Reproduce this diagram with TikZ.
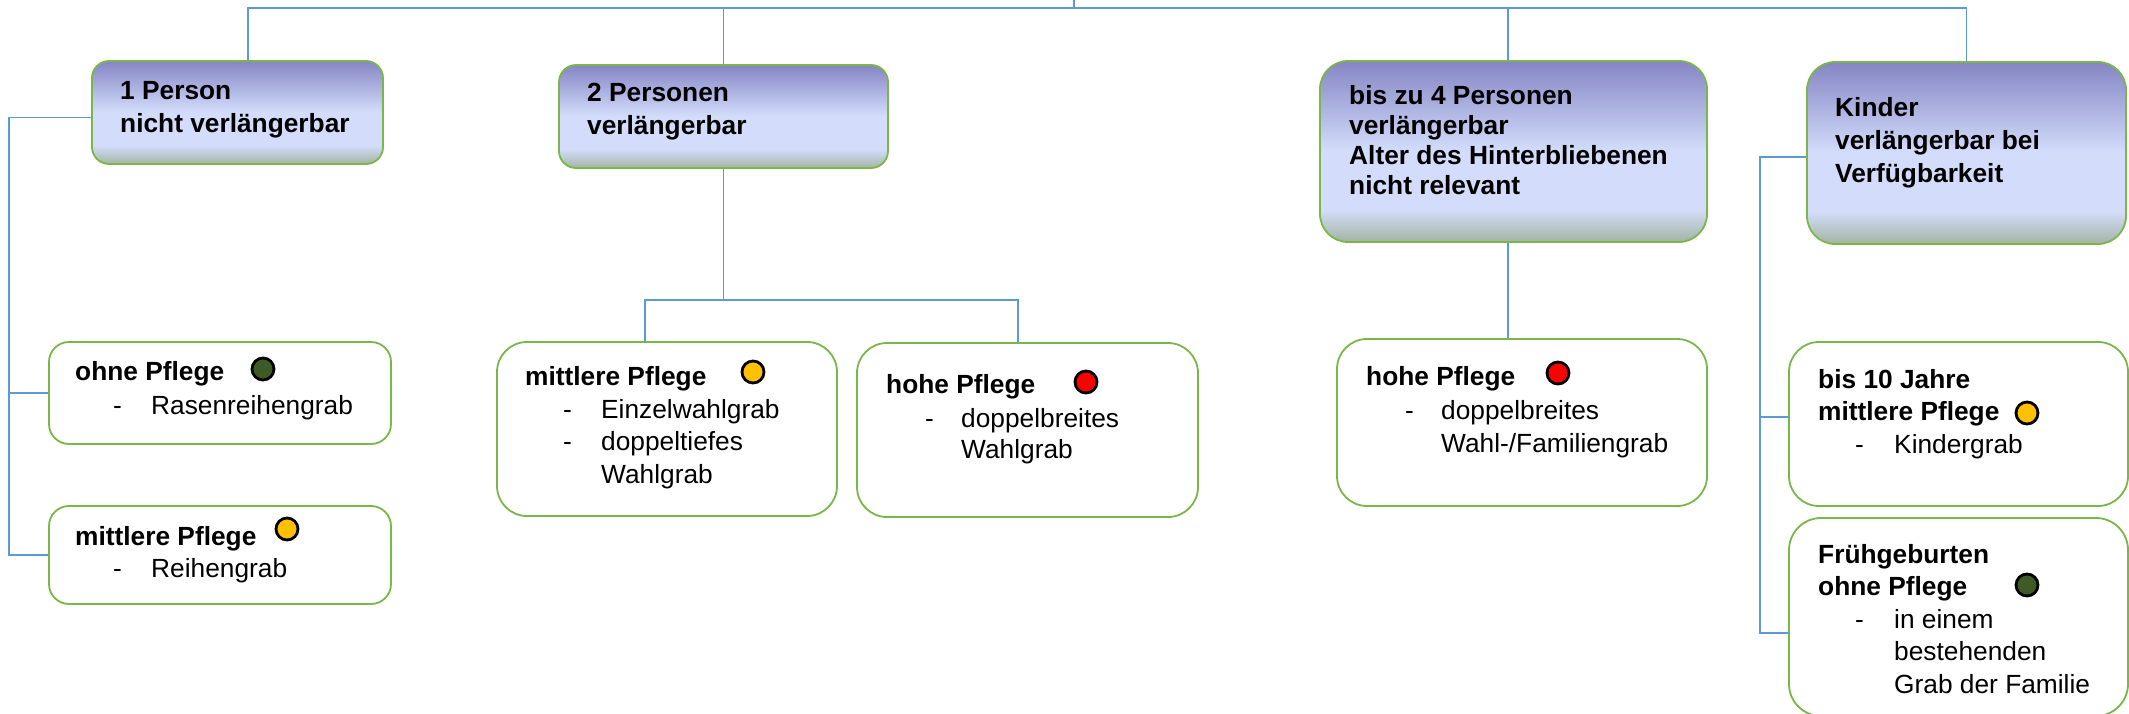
\documentclass[tikz,border=0pt]{standalone}
\usepackage{fontspec}
\setmainfont{Liberation Sans}
\definecolor{topc}{RGB}{133,133,196}
\definecolor{lightc}{RGB}{211,221,251}
\definecolor{botc}{RGB}{163,180,163}
\definecolor{boxline}{RGB}{122,182,72}
\definecolor{connc}{RGB}{91,155,213}
\definecolor{dgreen}{RGB}{62,91,39}
\definecolor{dyellow}{RGB}{255,192,0}
\definecolor{dred}{RGB}{255,0,0}
\pgfdeclareverticalshading{topshade}{100bp}{color(0bp)=(botc); color(25bp)=(botc); color(34bp)=(lightc); color(50bp)=(lightc); color(75bp)=(topc); color(100bp)=(topc)}
\tikzset{
  topbox/.style={draw=boxline, line width=1.8pt, shading=topshade, inner sep=0pt},
  lowbox/.style={draw=boxline, line width=1.8pt, fill=white, inner sep=0pt},
  conn/.style={draw=connc, line width=1.4pt},
  txt/.style={anchor=base west, inner sep=0pt, align=left, font=\fontsize{26.3}{33}\selectfont},
  btxt/.style={txt, font=\fontsize{26.3}{33}\selectfont\bfseries},
  dot/.style={circle, draw=black, line width=2.8pt, minimum size=22pt, inner sep=0pt}
}
\begin{document}
\begin{tikzpicture}[x=1pt,y=-1pt]
\useasboundingbox (0,0) rectangle (2129,714);
% top level boxes
\node[topbox, minimum width=291pt, minimum height=103pt, rounded corners=17pt] (b1) at (237.5,112.5) {};
\node[topbox, minimum width=329pt, minimum height=103pt, rounded corners=17pt] (b2) at (723.5,116.5) {};
\node[topbox, minimum width=387pt, minimum height=181pt, rounded corners=28pt] (b3) at (1513.5,151.5) {};
\node[topbox, minimum width=319pt, minimum height=182pt, rounded corners=28pt] (b4) at (1966.5,153) {};
% lower boxes
\node[lowbox, minimum width=342pt, minimum height=102pt, rounded corners=20pt] (o1) at (220,393) {};
\node[lowbox, minimum width=342pt, minimum height=98pt, rounded corners=20pt] (o2) at (220,555) {};
\node[lowbox, minimum width=340pt, minimum height=174pt, rounded corners=30pt] (m1) at (667,429) {};
\node[lowbox, minimum width=341pt, minimum height=174pt, rounded corners=30pt] (m2) at (1027.5,430) {};
\node[lowbox, minimum width=370pt, minimum height=167pt, rounded corners=30pt] (h3) at (1522,422.5) {};
\node[lowbox, minimum width=339pt, minimum height=164pt, rounded corners=30pt] (k1) at (1958.5,424) {};
\node[lowbox, minimum width=339pt, minimum height=198pt, rounded corners=32pt] (k2) at (1958.5,617) {};
% connectors
\coordinate (top) at (1074,0);
\coordinate (bar) at (1074,8);
\draw[conn] (top) -- (bar);
\draw[conn] ([xshift=10.5pt]b1.north) |- (bar) -| (b4.north);
\draw[conn] (b2.north) -- (b2.north |- bar);
\draw[conn] ([xshift=-5.5pt]b3.north) -- ([xshift=-5.5pt]b3.north |- bar);
\coordinate (Lx) at (9,0);
\draw[conn] ([yshift=-5pt]b1.west) -| (Lx |- o2.west) -- (o2.west);
\draw[conn] (Lx |- o1.west) -- (o1.west);
\coordinate (J2) at (723.5,300);
\draw[conn] (b2.south) -- (J2);
\draw[conn] ([xshift=-22pt]m1.north) |- ([xshift=-9.5pt]m2.north |- J2) -- ([xshift=-9.5pt]m2.north);
\draw[conn] ([xshift=-5.5pt]b3.south) -- ([xshift=-5.5pt]b3.south |- h3.north);
\coordinate (Rx) at (1760,0);
\coordinate (k1c) at (1789,417);
\coordinate (k2c) at (1789,633);
\draw[conn] ([yshift=-4pt]b4.west) -| (Rx |- k2c) -- (k2c);
\draw[conn] (Rx |- k1c) -- (k1c);
% top texts (anchor = baseline of last line)
\node[btxt] (t1) at (120,133) {1 Person\\nicht verlängerbar};
\node[btxt] (t2) at (587,135) {2 Personen\\verlängerbar};
\node[btxt, font=\fontsize{26.3}{30}\selectfont\bfseries] (t3) at (1349,195) {bis zu 4 Personen\\verlängerbar\\Alter des Hinterbliebenen\\nicht relevant};
\node[btxt] (t4) at (1835,183) {Kinder\\verlängerbar bei\\Verfügbarkeit};
% o1
\node[btxt] (o1t) at (75,380) {ohne Pflege};
\node[dot, fill=dgreen] (o1c) at (263,369) {};
\node[txt] (o1d) at (113,414) {-};
\node[txt] (o1i) at (151,414) {Rasenreihengrab};
% o2
\node[btxt] (o2t) at (75,545) {mittlere Pflege};
\node[dot, fill=dyellow] (o2c) at (287,529) {};
\node[txt] (o2d) at (113,577) {-};
\node[txt] (o2i) at (151,577) {Reihengrab};
% m1
\node[btxt] (m1t) at (525,385) {mittlere Pflege};
\node[dot, fill=dyellow] (m1c) at (753,372) {};
\node[txt] (m1d1) at (563,418) {-};
\node[txt] (m1i1) at (601,418) {Einzelwahlgrab};
\node[txt] (m1d2) at (563,450) {-};
\node[txt] (m1i2) at (601,483) {doppeltiefes\\Wahlgrab};
% m2
\node[btxt] (m2t) at (886,393) {hohe Pflege};
\node[dot, fill=dred] (m2c) at (1086,382) {};
\node[txt] (m2d) at (925,427) {-};
\node[txt, font=\fontsize{26.3}{31}\selectfont] (m2i) at (961,458) {doppelbreites\\Wahlgrab};
% h3
\node[btxt] (h3t) at (1366,385) {hohe Pflege};
\node[dot, fill=dred] (h3c) at (1558,373) {};
\node[txt] (h3d) at (1405,419) {-};
\node[txt] (h3i) at (1441,452) {doppelbreites\\Wahl-/Familiengrab};
% k1
\node[btxt, font=\fontsize{26.3}{32}\selectfont\bfseries] (k1t) at (1818,420) {bis 10 Jahre\\mittlere Pflege};
\node[dot, fill=dyellow] (k1d0) at (2027,413) {};
\node[txt] (k1d) at (1855,453) {-};
\node[txt] (k1i) at (1894,453) {Kindergrab};
% k2
\node[btxt, font=\fontsize{26.3}{32}\selectfont\bfseries] (k2t) at (1818,595) {Frühgeburten\\ohne Pflege};
\node[dot, fill=dgreen] (k2d0) at (2027,585) {};
\node[txt] (k2d) at (1855,628) {-};
\node[txt, font=\fontsize{26.3}{32.5}\selectfont] (k2i) at (1894,693) {in einem\\bestehenden\\Grab der Familie};
\end{tikzpicture}
\end{document}
